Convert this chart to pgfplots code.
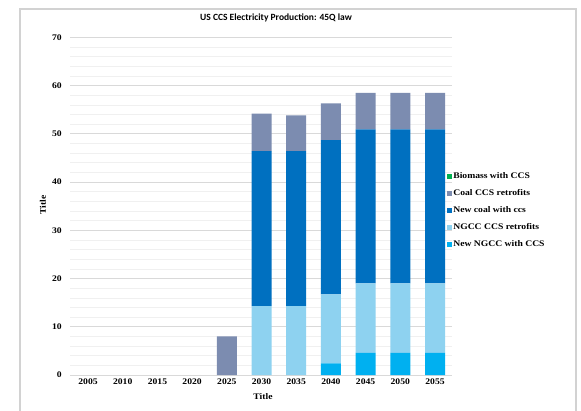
\documentclass[border=0pt]{standalone}
\usepackage{fontspec}
\setmainfont{Liberation Serif}[FakeStretch=1.12]
\newfontfamily\titlefont{Carlito}
\usepackage{pgfplots}
\pgfplotsset{compat=1.18}
\definecolor{cBio}{RGB}{0,176,80}
\definecolor{cCoalR}{RGB}{124,140,176}
\definecolor{cNewCoal}{RGB}{0,112,192}
\definecolor{cNGCCR}{RGB}{142,210,240}
\definecolor{cNewNGCC}{RGB}{0,176,240}
\newcommand{\lblfont}{\bfseries\fontsize{8.6}{10}\selectfont}
\begin{document}
\begin{tikzpicture}[x=1pt,y=1pt]
\useasboundingbox (0,0) rectangle (581,410);
\fill[white] (0,0) rectangle (581,410);
\draw[line width=2.5pt, color=gray!35] (20,-5) -- (20,401);
\draw[line width=2.5pt, color=gray!35] (576,-5) -- (576,401);
\draw[line width=1.2pt, color=gray!35] (19,401) -- (577,401);
\begin{axis}[
  at={(70pt,35pt)}, anchor=south west,
  scale only axis, width=382pt, height=337.7pt,
  ybar stacked, bar width=20pt,
  xmin=-0.52, xmax=10.49, ymin=0, ymax=70,
  xtick={0,...,10},
  xticklabels={2005,2010,2015,2020,2025,2030,2035,2040,2045,2050,2055},
  ytick={0,10,...,70}, minor y tick num=4,
  ymajorgrids, yminorgrids,
  major grid style={draw=gray!30, line width=0.6pt},
  minor grid style={draw=gray!12, line width=0.5pt},
  axis line style={draw=none}, major tick style={draw=none}, minor tick style={draw=none},
  /pgf/number format/assume math mode=true,
  ticklabel style={font=\lblfont},
  yticklabel style={anchor=east, inner sep=0pt, xshift=-8pt},
  xticklabel style={anchor=north, inner sep=0pt, yshift=-4pt},
  reverse legend,
  legend cell align=left,
  legend style={at={(0.987,0.487)}, anchor=west, draw=none, fill=none, inner sep=0pt,
    row sep=6.5pt, font=\lblfont, nodes={inner sep=1.5pt}},
  legend image code/.code={\fill[#1] (0pt,-2.3pt) rectangle (4.6pt,2.3pt);},
]
\addplot[fill=cNewNGCC, draw=none] coordinates {(0,0) (1,0) (2,0) (3,0) (4,0) (5,0) (6,0) (7,2.4) (8,4.6) (9,4.6) (10,4.6)};
\addplot[fill=cNGCCR, draw=none] coordinates {(0,0) (1,0) (2,0) (3,0) (4,0) (5,14.3) (6,14.3) (7,14.3) (8,14.4) (9,14.4) (10,14.4)};
\addplot[fill=cNewCoal, draw=none] coordinates {(0,0) (1,0) (2,0) (3,0) (4,0) (5,32.1) (6,32.1) (7,32.0) (8,31.9) (9,31.9) (10,31.9)};
\addplot[fill=cCoalR, draw=none] coordinates {(0,0) (1,0) (2,0) (3,0) (4,8.0) (5,7.8) (6,7.4) (7,7.6) (8,7.6) (9,7.6) (10,7.6)};
\addplot[fill=cBio, draw=none] coordinates {(0,0) (1,0) (2,0) (3,0) (4,0) (5,0) (6,0) (7,0) (8,0) (9,0) (10,0)};
\legend{New NGCC with CCS, NGCC CCS retrofits, New coal with ccs, Coal CCS retrofits, Biomass with CCS}
\end{axis}
\node[font=\titlefont\bfseries\fontsize{9.5}{11}\selectfont] at (276,392) {US CCS Electricity Production: 45Q law};
\node[rotate=90, font=\lblfont] at (43,205) {Title};
\node[font=\lblfont] at (263,13) {Title};
\end{tikzpicture}
\end{document}
